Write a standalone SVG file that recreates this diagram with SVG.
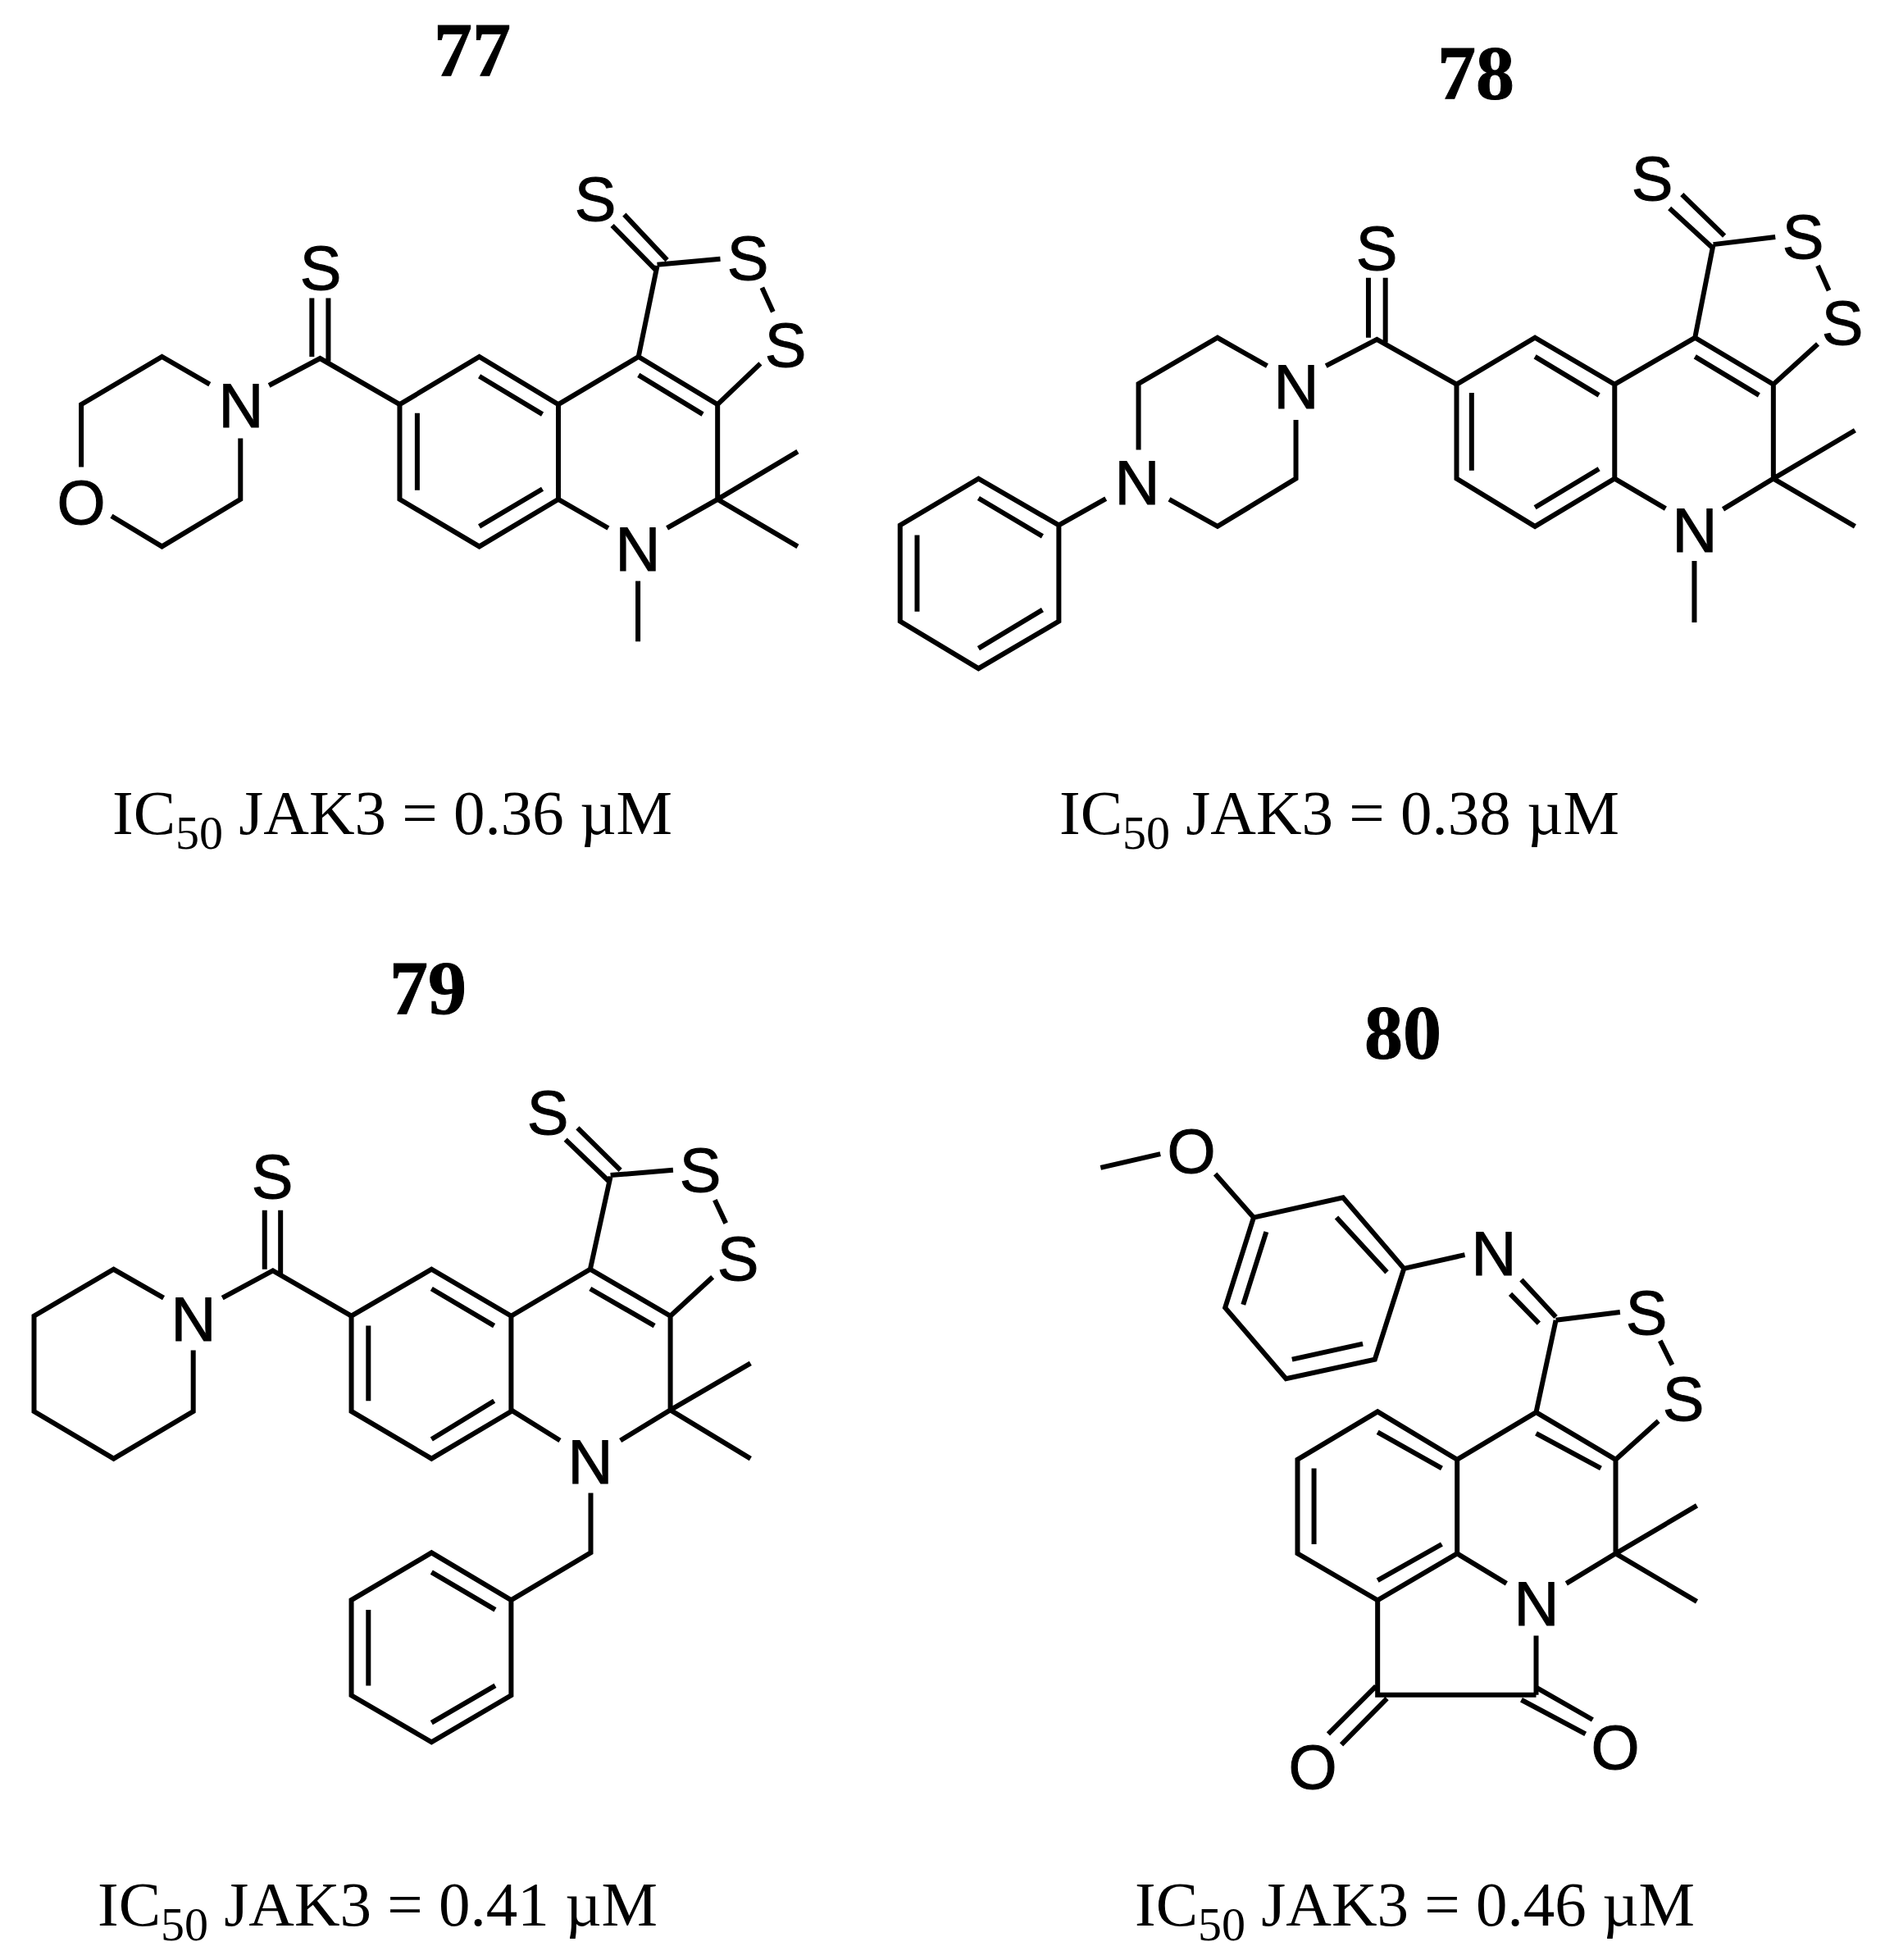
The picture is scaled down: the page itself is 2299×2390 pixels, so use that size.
<svg xmlns="http://www.w3.org/2000/svg" width="2299" height="2390" viewBox="0 0 2299 2390">
<style>
.b{fill:none;stroke:#000;stroke-width:6;stroke-linejoin:miter;stroke-linecap:butt;vector-effect:non-scaling-stroke}
.a{font-family:"Liberation Sans",Arial,sans-serif;text-anchor:middle;fill:#000;stroke:#000;stroke-width:1}
.t{font-family:"Liberation Serif","Times New Roman",serif;font-weight:bold;font-size:94px;text-anchor:middle;fill:#000;stroke:#000;stroke-width:1}
.l{font-family:"Liberation Serif","Times New Roman",serif;font-size:77px;fill:#000}
.s{font-size:58px}
</style>
<rect width="2299" height="2390" fill="#fff"/>
<g id="compound-77">
<text class="t" x="576" y="92">77</text>
<g id="bonds-77" transform="scale(.6696,.7015)">
<path class="b" d="M382,668L295,620L148,703V812M438,762V868L295,950L203,897M490,670L583,623L728,703M568,518V620M598,518V628"/>
<path class="b" d="M728,703L873,620L1017,703V868L873,950L728,868ZM760,718V852M873,654L988,720M873,915L988,850"/>
<path class="b" d="M1017,703L1163,620L1307,703V868L1215,918M1017,868L1108,918M1163,652L1280,720M1163,620L1197,462M1115,392L1195,470M1137,373L1215,452M1197,460L1312,450M1388,500L1408,542M1307,703L1385,632M1307,868L1453,785M1307,868L1453,950M1162,1010V1115"/>
</g>
<g class="a" font-size="76">
<text x="391" y="353">S</text><text x="726" y="269">S</text><text x="912" y="341">S</text><text x="958" y="447">S</text><text x="294" y="521">N</text><text x="778" y="696">N</text><text x="99" y="639">O</text>
</g>
<text class="l" x="137" y="1017" textLength="683">IC<tspan class="s" dy="18">50</tspan><tspan dy="-18"> JAK3 = 0.36 µM</tspan></text>
</g>
<g id="compound-78">
<text class="t" x="1800" y="120">78</text>
<g id="bonds-78" transform="translate(1050,0) scale(.7966,.7015)">
<path class="b" d="M303,913L180,832L60,913V1080L180,1162L303,1080ZM180,866L278,932M86,930V1063M180,1127L278,1060M303,913L375,867"/>
<path class="b" d="M425,782V667L546,587L622,636M472,868L546,915L666,832V730M712,636L790,590L912,668M777,483V587M803,483V595"/>
<path class="b" d="M912,668L1032,587L1154,668V832L1032,915L912,832ZM935,683V818M1032,620L1130,687M1032,882L1130,815"/>
<path class="b" d="M1154,668L1277,587L1397,668V832L1320,885M1154,832L1232,884M1277,620L1375,687M1277,587L1305,425M1238,362L1305,432M1257,338L1322,410M1305,425L1400,412M1465,462L1482,505M1397,668L1465,598M1397,832L1522,748M1397,832L1522,915M1276,975V1082"/>
</g>
<g class="a" font-size="76">
<text x="1679" y="329">S</text><text x="2015" y="244">S</text><text x="2199" y="315">S</text><text x="2247" y="420">S</text><text x="1581" y="498">N</text><text x="1387" y="615">N</text><text x="2067" y="673">N</text>
</g>
<text class="l" x="1292" y="1017" textLength="683">IC<tspan class="s" dy="18">50</tspan><tspan dy="-18"> JAK3 = 0.38 µM</tspan></text>
</g>
<g id="compound-79">
<text class="t" x="522" y="1236">79</text>
<g id="bonds-79" transform="translate(0,1150) scale(.6696,.7908)">
<path class="b" d="M298,547L207,503L62,575V722L207,795L352,722V628M405,547L497,505L640,575M482,412V503M511,412V512"/>
<path class="b" d="M640,575L786,503L931,575V722L786,795L640,722ZM671,590V706M786,533L900,590M786,765L900,706"/>
<path class="b" d="M931,575L1075,503L1221,575V720L1130,767M931,720L1020,767M1075,533L1192,590M1075,503L1112,360M1030,303L1110,368M1052,285L1130,350M1112,358L1226,350M1302,396L1322,432M1221,575L1298,515M1221,720L1367,648M1221,720L1367,795"/>
<path class="b" d="M1076,848V940L931,1013M931,1013L786,940L640,1013V1160L786,1232L931,1160ZM786,970L902,1028M671,1028V1145M786,1202L902,1145"/>
</g>
<g class="a" font-size="76">
<text x="332" y="1461">S</text><text x="668" y="1383">S</text><text x="854" y="1453">S</text><text x="900" y="1561">S</text><text x="236" y="1635">N</text><text x="720" y="1809">N</text>
</g>
<text class="l" x="119" y="2348" textLength="683">IC<tspan class="s" dy="18">50</tspan><tspan dy="-18"> JAK3 = 0.41 µM</tspan></text>
</g>
<g id="compound-80">
<text class="t" x="1711" y="1290">80</text>
<g id="bonds-80" transform="translate(1250,1200) scale(.669,.7589)">
<path class="b" d="M138,295L247,273M347,305L417,375M417,375L580,343L691,457L638,603L476,634L365,520ZM568,375L660,463M440,398L398,515M487,603L616,578M691,457L802,435"/>
<path class="b" d="M905,475L968,535M885,498L937,545M968,540L1085,527M1158,573L1180,612M968,540L932,688M932,688L1077,764V915L987,963M788,915L878,963M932,1047V1142M788,764L932,688M932,722L1050,778M1077,764L1155,702M1077,915L1225,838M1077,915L1225,992"/>
<path class="b" d="M788,764L643,687L497,764V915L643,990L788,915ZM643,720L760,778M527,778V900M643,958L760,900"/>
<path class="b" d="M643,990V1142H932M553,1205L640,1128M577,1222L660,1148M932,1130L1035,1182M905,1150L1022,1205"/>
</g>
<g class="a" font-size="76">
<text x="1453" y="1430">O</text><text x="1822" y="1555">N</text><text x="2008" y="1627">S</text><text x="2053" y="1732">S</text><text x="1874" y="1982">N</text><text x="1601" y="2181">O</text><text x="1970" y="2157">O</text>
</g>
<text class="l" x="1384" y="2348" textLength="683">IC<tspan class="s" dy="18">50</tspan><tspan dy="-18"> JAK3 = 0.46 µM</tspan></text>
</g>
</svg>
